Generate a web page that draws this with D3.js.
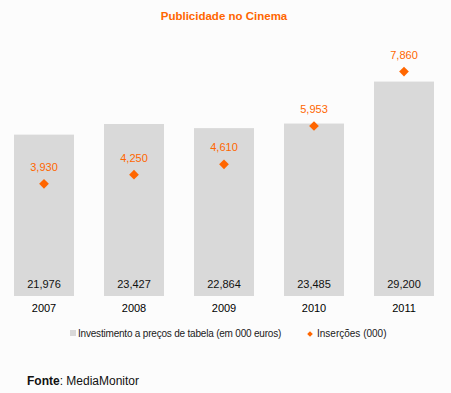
<!DOCTYPE html>
<html>
<head>
<meta charset="utf-8">
<script src="https://cdn.jsdelivr.net/npm/d3@7"></script>
<style>
  body { margin: 0; background: #fcfcfc; }
  svg { display: block; font-family: "Liberation Sans", Arial, sans-serif; }
</style>
</head>
<body>
<svg id="chart"></svg>
<script>
const years = ['2007', '2008', '2009', '2010', '2011'];
const investimento = [21976, 23427, 22864, 23485, 29200];
const insercoes = [3930, 4250, 4610, 5953, 7860];

const width = 451;
const height = 393;
const orange = '#ff6600';

const svg = d3.select('#chart')
  .attr('width', width)
  .attr('height', height);

svg.append('rect')
  .attr('width', width)
  .attr('height', height)
  .attr('fill', '#fcfcfc');

const x = d3.scaleBand()
  .domain(years)
  .range([-1, 449])
  .paddingInner(1 / 3)
  .paddingOuter(1 / 6);

// primary axis (bars) and secondary axis (diamonds) share the plot area
const y = d3.scaleLinear().domain([0, 35000]).range([296, 39]);
const y2 = d3.scaleLinear().domain([0, 9000]).range([296, 39]);

const fmt = d3.format(',');

svg.append('text')
  .attr('x', 224)
  .attr('y', 20)
  .attr('text-anchor', 'middle')
  .attr('font-size', 11.5)
  .attr('font-weight', 'bold')
  .attr('fill', orange)
  .text('Publicidade no Cinema');

svg.append('g')
  .selectAll('rect')
  .data(years)
  .join('rect')
  .attr('x', d => x(d))
  .attr('y', (d, i) => y(investimento[i]))
  .attr('width', x.bandwidth())
  .attr('height', (d, i) => y(0) - y(investimento[i]))
  .attr('fill', '#d9d9d9');

svg.append('g')
  .selectAll('text')
  .data(years)
  .join('text')
  .attr('x', d => x(d) + x.bandwidth() / 2)
  .attr('y', 288)
  .attr('text-anchor', 'middle')
  .attr('font-size', 11)
  .attr('fill', '#111')
  .text((d, i) => fmt(investimento[i]));

// category labels
const xAxis = svg.append('g')
  .attr('transform', 'translate(0,296)')
  .call(d3.axisBottom(x).tickSize(0).tickPadding(8));
xAxis.select('.domain').remove();
xAxis.selectAll('text')
  .attr('font-size', 11)
  .attr('font-family', '"Liberation Sans", Arial, sans-serif')
  .attr('fill', '#000');

const diamond = d3.symbol().type(d3.symbolDiamond2).size(60);

svg.append('g')
  .selectAll('path')
  .data(years)
  .join('path')
  .attr('d', diamond)
  .attr('transform', (d, i) => `translate(${x(d) + x.bandwidth() / 2},${y2(insercoes[i])})`)
  .attr('fill', orange);

svg.append('g')
  .selectAll('text')
  .data(years)
  .join('text')
  .attr('x', d => x(d) + x.bandwidth() / 2)
  .attr('y', (d, i) => y2(insercoes[i]) - 13)
  .attr('text-anchor', 'middle')
  .attr('font-size', 11)
  .attr('fill', orange)
  .text((d, i) => fmt(insercoes[i]));

// legend
const legend = svg.append('g');
legend.append('rect')
  .attr('x', 70).attr('y', 330)
  .attr('width', 6).attr('height', 6)
  .attr('fill', '#d9d9d9');
legend.append('text')
  .attr('x', 78).attr('y', 337)
  .attr('font-size', 10)
  .attr('fill', '#1a1a1a')
  .attr('letter-spacing', -0.2)
  .text('Investimento a preços de tabela (em 000 euros)');
legend.append('path')
  .attr('d', d3.symbol().type(d3.symbolDiamond2).size(20))
  .attr('transform', 'translate(310,334)')
  .attr('fill', orange);
legend.append('text')
  .attr('x', 317).attr('y', 337)
  .attr('font-size', 10)
  .attr('fill', '#1a1a1a')
  .text('Inserções (000)');

const source = svg.append('text')
  .attr('x', 27)
  .attr('y', 385)
  .attr('font-size', 12)
  .attr('fill', '#111');
source.append('tspan').attr('font-weight', 'bold').text('Fonte');
source.append('tspan').text(': MediaMonitor');
</script>
</body>
</html>
